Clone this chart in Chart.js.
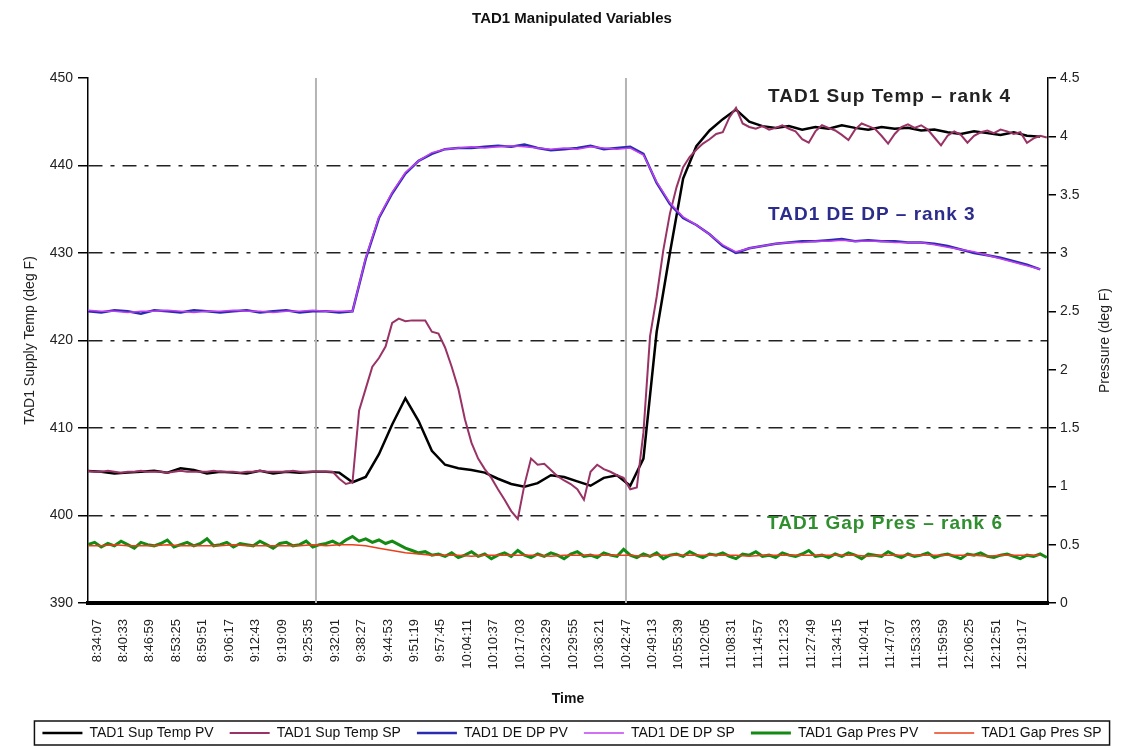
<!DOCTYPE html>
<html>
<head>
<meta charset="utf-8">
<title>TAD1 Manipulated Variables</title>
<script src="https://cdn.jsdelivr.net/npm/chart.js@4.4.1/dist/chart.umd.min.js"></script>
<style>
  html, body { margin: 0; padding: 0; background: #fff; }
  #wrap { width: 1126px; height: 750px; }
</style>
</head>
<body>
<div id="wrap"><canvas id="chart" width="1126" height="750"></canvas></div>
<script>
// time axis
const tickLabels = ['8:34:07', '8:40:33', '8:46:59', '8:53:25', '8:59:51', '9:06:17', '9:12:43', '9:19:09',
    '9:25:35', '9:32:01', '9:38:27', '9:44:53', '9:51:19', '9:57:45', '10:04:11', '10:10:37', '10:17:03',
    '10:23:29', '10:29:55', '10:36:21', '10:42:47', '10:49:13', '10:55:39', '11:02:05', '11:08:31',
    '11:14:57', '11:21:23', '11:27:49', '11:34:15', '11:40:41', '11:47:07', '11:53:33', '11:59:59',
    '12:06:25', '12:12:51', '12:19:17'];
const startTime = '8:31:56';
const endTime = '12:25:26';
const coarseStep = 193;   // seconds between samples
const fineStep = 96.5;
const markerTimes = ['9:27:23', '10:42:47'];

// TAD1 Sup Temp (deg F), left axis
const supTempPV = [
    405.1, 405.0, 404.8, 404.9, 405.0, 405.1, 404.9, 405.4, 405.2, 404.8,
    405.0, 404.9, 404.8, 405.1, 404.8, 405.0, 404.9, 405.0, 405.0, 404.9,
    403.8, 404.4, 407.0, 410.4, 413.4, 410.8, 407.4, 405.8, 405.4, 405.2,
    404.9, 404.2, 403.6, 403.3, 403.7, 404.6, 404.4, 403.9, 403.4, 404.3,
    404.6, 403.4, 406.5, 421.0, 430.0, 438.5, 442.2, 444.0, 445.3, 446.4,
    445.0, 444.5, 444.3, 444.5, 444.1, 444.4, 444.2, 444.6, 444.3, 444.1,
    444.4, 444.2, 444.3, 444.0, 444.1, 443.8, 443.6, 443.9, 443.7, 443.5,
    443.8, 443.4, 443.3
];
const supTempSP = [
    405.1, 405.0, 405.0, 405.1, 405.0, 404.9, 405.0, 405.0, 405.1, 405.0,
    405.0, 405.0, 404.9, 405.0, 405.1, 405.0, 405.0, 405.0, 405.0, 405.1,
    405.0, 405.0, 405.0, 404.9, 405.0, 405.0, 405.1, 405.0, 405.0, 405.0,
    405.0, 405.1, 405.0, 405.0, 405.0, 405.0, 405.0, 405.0, 404.2, 403.6,
    403.8, 412.0, 414.5, 417.0, 418.0, 419.3, 422.0, 422.5, 422.2, 422.3,
    422.3, 422.3, 421.0, 420.8, 419.2, 417.0, 414.5, 411.0, 408.3, 406.5,
    405.3, 404.3, 403.0, 401.8, 400.5, 399.6, 403.5, 406.5, 405.8, 405.9,
    405.2, 404.5, 404.0, 403.6, 403.0, 401.8, 405.0, 405.8, 405.3, 405.0,
    404.6, 404.3, 403.0, 403.2, 409.5, 420.5, 425.0, 430.3, 434.5, 437.5,
    439.8, 441.0, 441.8, 442.5, 443.0, 443.6, 443.8, 445.5, 446.6, 444.8,
    444.4, 444.2, 444.5, 444.1, 444.3, 444.6, 444.2, 443.9, 443.0, 442.6,
    443.9, 444.6, 444.3, 444.0, 443.5, 442.9, 444.1, 444.8, 444.5, 444.2,
    443.4, 442.5, 443.6, 444.4, 444.7, 444.3, 444.6, 444.1, 443.2, 442.3,
    443.4, 443.9, 443.5, 442.6, 443.4, 443.8, 444.0, 443.7, 444.1, 443.9,
    443.6, 443.8, 442.6, 443.1, 443.4, 443.2
];

// TAD1 DE DP, right axis
const deDpPV = [
    2.50, 2.49, 2.51, 2.50, 2.48, 2.51, 2.50, 2.49, 2.51, 2.50,
    2.49, 2.50, 2.51, 2.49, 2.50, 2.51, 2.49, 2.50, 2.50, 2.49,
    2.50, 2.95, 3.30, 3.51, 3.68, 3.79, 3.85, 3.89, 3.90, 3.90,
    3.91, 3.92, 3.91, 3.93, 3.90, 3.88, 3.89, 3.90, 3.92, 3.89,
    3.90, 3.91, 3.85, 3.60, 3.42, 3.30, 3.24, 3.16, 3.06, 3.00,
    3.04, 3.06, 3.08, 3.09, 3.10, 3.10, 3.11, 3.12, 3.10, 3.11,
    3.10, 3.10, 3.09, 3.09, 3.08, 3.06, 3.03, 3.00, 2.98, 2.96,
    2.93, 2.90, 2.86
];
const deDpSP = [
    2.51, 2.50, 2.50, 2.49, 2.50, 2.50, 2.51, 2.50, 2.49, 2.50,
    2.50, 2.51, 2.50, 2.50, 2.49, 2.50, 2.50, 2.51, 2.50, 2.50,
    2.50, 2.96, 3.31, 3.52, 3.69, 3.79, 3.86, 3.89, 3.90, 3.91,
    3.90, 3.91, 3.92, 3.91, 3.90, 3.89, 3.90, 3.89, 3.91, 3.90,
    3.89, 3.90, 3.84, 3.61, 3.43, 3.31, 3.24, 3.16, 3.07, 3.01,
    3.04, 3.06, 3.08, 3.09, 3.09, 3.10, 3.10, 3.11, 3.10, 3.10,
    3.10, 3.09, 3.09, 3.09, 3.07, 3.05, 3.03, 3.01, 2.98, 2.95,
    2.92, 2.89, 2.86
];

// TAD1 Gap Pres, right axis
const gapPresPV = [
    0.50, 0.52, 0.48, 0.51, 0.49, 0.53, 0.50, 0.47, 0.52, 0.50,
    0.49, 0.51, 0.54, 0.48, 0.50, 0.52, 0.49, 0.51, 0.55, 0.49,
    0.50, 0.52, 0.48, 0.51, 0.50, 0.49, 0.53, 0.50, 0.47, 0.51,
    0.52, 0.49, 0.50, 0.53, 0.48, 0.50, 0.51, 0.53, 0.50, 0.54,
    0.57, 0.53, 0.55, 0.52, 0.54, 0.51, 0.53, 0.50, 0.47, 0.45,
    0.43, 0.44, 0.41, 0.42, 0.40, 0.43, 0.39, 0.41, 0.44, 0.40,
    0.42, 0.38, 0.41, 0.43, 0.40, 0.45, 0.41, 0.39, 0.42, 0.40,
    0.43, 0.41, 0.38, 0.42, 0.44, 0.40, 0.41, 0.39, 0.43, 0.41,
    0.40, 0.46, 0.41, 0.39, 0.42, 0.40, 0.43, 0.38, 0.41, 0.42,
    0.40, 0.44, 0.41, 0.39, 0.42, 0.41, 0.43, 0.40, 0.38, 0.42,
    0.41, 0.44, 0.40, 0.41, 0.39, 0.43, 0.41, 0.40, 0.42, 0.45,
    0.40, 0.41, 0.39, 0.42, 0.40, 0.43, 0.41, 0.38, 0.42, 0.41,
    0.40, 0.44, 0.41, 0.39, 0.42, 0.40, 0.41, 0.43, 0.39, 0.41,
    0.42, 0.40, 0.38, 0.42, 0.41, 0.43, 0.40, 0.39, 0.41, 0.42,
    0.40, 0.38, 0.41, 0.40, 0.42, 0.39
];
const gapPresSP = [
    0.49, 0.49, 0.50, 0.49, 0.49, 0.49, 0.50, 0.49, 0.49, 0.49,
    0.49, 0.50, 0.49, 0.49, 0.49, 0.49, 0.49, 0.50, 0.49, 0.50,
    0.50, 0.49, 0.47, 0.45, 0.43, 0.42, 0.41, 0.41, 0.41, 0.40,
    0.41, 0.41, 0.41, 0.41, 0.41, 0.40, 0.41, 0.41, 0.41, 0.41,
    0.41, 0.41, 0.40, 0.41, 0.41, 0.41, 0.41, 0.41, 0.41, 0.41,
    0.40, 0.41, 0.41, 0.41, 0.41, 0.41, 0.41, 0.41, 0.41, 0.40,
    0.41, 0.41, 0.41, 0.41, 0.41, 0.41, 0.41, 0.41, 0.40, 0.41,
    0.41, 0.41, 0.41
];

const annotations = [
    { text: 'TAD1 Sup Temp \u2013 rank 4', time: '11:17:20', value: 447.9, axis: 'y', color: '#222222' },
    { text: 'TAD1 DE DP \u2013 rank 3', time: '11:17:20', value: 3.33, axis: 'y2', color: '#2c2c8c' },
    { text: 'TAD1 Gap Pres \u2013 rank 6', time: '11:17:05', value: 0.68, axis: 'y2', color: '#2f8f2f' }
];

const toSec = (s) => {
    const p = s.split(':').map(Number);
    return p[0] * 3600 + p[1] * 60 + p[2];
}

const toPoints = (values, step) => values.map((v, i) => ({ x: toSec(startTime) + i * step, y: v }));

const series = [
    { label: 'TAD1 Sup Temp PV', data: toPoints(supTempPV, coarseStep), color: '#000000', width: 2.5, axis: 'y' },
    { label: 'TAD1 Sup Temp SP', data: toPoints(supTempSP, fineStep), color: '#993366', width: 2, axis: 'y' },
    { label: 'TAD1 DE DP PV', data: toPoints(deDpPV, coarseStep), color: '#2b2bb0', width: 2.5, axis: 'y2' },
    { label: 'TAD1 DE DP SP', data: toPoints(deDpSP, coarseStep), color: '#c040f0', width: 1.5, axis: 'y2' },
    { label: 'TAD1 Gap Pres PV', data: toPoints(gapPresPV, fineStep), color: '#138a13', width: 3, axis: 'y2' },
    { label: 'TAD1 Gap Pres SP', data: toPoints(gapPresSP, coarseStep), color: '#e8401a', width: 1.5, axis: 'y2' }
];

const overlay = {
    id: 'overlay',
    beforeDatasetsDraw(chart) {
        const { ctx, chartArea, scales } = chart;
        ctx.save();
        ctx.strokeStyle = '#b4b4b4';
        ctx.lineWidth = 2;
        markerTimes.forEach(t => {
            const px = scales.x.getPixelForValue(toSec(t));
            ctx.beginPath();
            ctx.moveTo(px, chartArea.top);
            ctx.lineTo(px, chartArea.bottom);
            ctx.stroke();
        });
        ctx.restore();
    },
    afterDraw(chart) {
        const { ctx, chartArea, scales } = chart;
        ctx.save();

        // rank notes
        ctx.font = "bold 19px 'Liberation Sans', Arial, sans-serif";
        ctx.textBaseline = 'middle';
        ctx.textAlign = 'left';
        if ('letterSpacing' in ctx) ctx.letterSpacing = '1px';
        annotations.forEach(a => {
            ctx.fillStyle = a.color;
            ctx.fillText(a.text, scales.x.getPixelForValue(toSec(a.time)), scales[a.axis].getPixelForValue(a.value));
        });
        if ('letterSpacing' in ctx) ctx.letterSpacing = '0px';

        // right axis title, reads bottom to top
        ctx.translate(chartArea.right + 57, (chartArea.top + chartArea.bottom) / 2);
        ctx.rotate(-Math.PI / 2);
        ctx.textAlign = 'center';
        ctx.fillStyle = '#222';
        ctx.font = "14px 'Liberation Sans', Arial, sans-serif";
        ctx.fillText('Pressure (deg F)', 0, 0);
        ctx.setTransform(1, 0, 0, 1, 0, 0);

        // legend frame
        const boxes = chart.legend.legendHitBoxes;
        if (boxes && boxes.length) {
            const l = Math.min(...boxes.map(b => b.left));
            const r = Math.max(...boxes.map(b => b.left + b.width));
            const t = Math.min(...boxes.map(b => b.top));
            const h = boxes[0].height;
            ctx.strokeStyle = '#111';
            ctx.lineWidth = 1.5;
            ctx.strokeRect(l - 8, t - 5, r - l + 16, h + 10);
        }
        ctx.restore();
    }
};

Chart.defaults.font.family = "'Liberation Sans', Arial, sans-serif";
Chart.defaults.color = '#222';

const ctx = document.getElementById('chart');
const chart = new Chart(ctx, {
    type: 'line',
    data: {
        datasets: series.map((s, i) => ({
            label: s.label,
            data: s.data,
            yAxisID: s.axis,
            borderColor: s.color,
            backgroundColor: s.color,
            borderWidth: s.width,
            pointRadius: 0,
            tension: 0,
            order: series.length - 1 - i
        }))
    },
    options: {
        responsive: false,
        animation: false,
        devicePixelRatio: 1,
        layout: { padding: { left: 18, right: 0, top: 0, bottom: 0 } },
        plugins: {
            title: {
                display: true,
                text: 'TAD1 Manipulated Variables',
                color: '#111',
                font: { size: 15, weight: 'bold' },
                padding: { top: 10, bottom: 50 }
            },
            legend: {
                position: 'bottom',
                labels: {
                    usePointStyle: true,
                    pointStyle: 'line',
                    pointStyleWidth: 40,
                    color: '#111',
                    font: { size: 14 },
                    padding: 16,
                    sort: (a, b) => a.datasetIndex - b.datasetIndex
                }
            },
            tooltip: { enabled: false }
        },
        scales: {
            x: {
                type: 'linear',
                min: toSec(startTime),
                max: toSec(endTime),
                afterBuildTicks: (scale) => {
                    scale.ticks = tickLabels.map(l => ({ value: toSec(l) }));
                },
                afterFit: (scale) => {
                    scale.height = 750 - 603 - scale.chart.legend.height;
                },
                ticks: {
                    autoSkip: false,
                    minRotation: 90,
                    maxRotation: 90,
                    padding: 8,
                    font: { size: 13 },
                    color: '#222',
                    callback: function (value, index) {
                        return tickLabels[index];
                    }
                },
                grid: { display: false },
                border: { display: true, color: '#000', width: 4 },
                title: {
                    display: true,
                    text: 'Time',
                    color: '#111',
                    font: { size: 14, weight: 'bold' },
                    padding: { top: 0, bottom: 2 }
                }
            },
            y: {
                position: 'left',
                min: 390,
                max: 450,
                afterFit: (scale) => { scale.width = 70; },
                ticks: { stepSize: 10, font: { size: 14 }, color: '#222', padding: 5 },
                grid: {
                    color: (c) => (c.tick.value === 390 || c.tick.value === 450) ? 'rgba(0,0,0,0)' : '#222',
                    lineWidth: 1.5,
                    tickColor: '#000',
                    tickWidth: 1.5,
                    tickLength: 10,
                    tickBorderDash: []
                },
                border: { color: '#000', width: 1.5, dash: [14, 8, 4, 8] },
                title: {
                    display: true,
                    text: 'TAD1 Supply Temp (deg F)',
                    color: '#222',
                    font: { size: 14 }
                }
            },
            y2: {
                position: 'right',
                min: 0,
                max: 4.5,
                afterFit: (scale) => { scale.width = 78; },
                ticks: {
                    stepSize: 0.5,
                    font: { size: 14 },
                    color: '#222',
                    padding: 4,
                    callback: (value) => Number.isInteger(value) ? String(value) : value.toFixed(1)
                },
                grid: {
                    drawOnChartArea: false,
                    color: '#000',
                    tickLength: 8,
                    lineWidth: 1.5
                },
                border: { color: '#000', width: 1.5 }
            }
        }
    },
    plugins: [overlay]
});
</script>
</body>
</html>
